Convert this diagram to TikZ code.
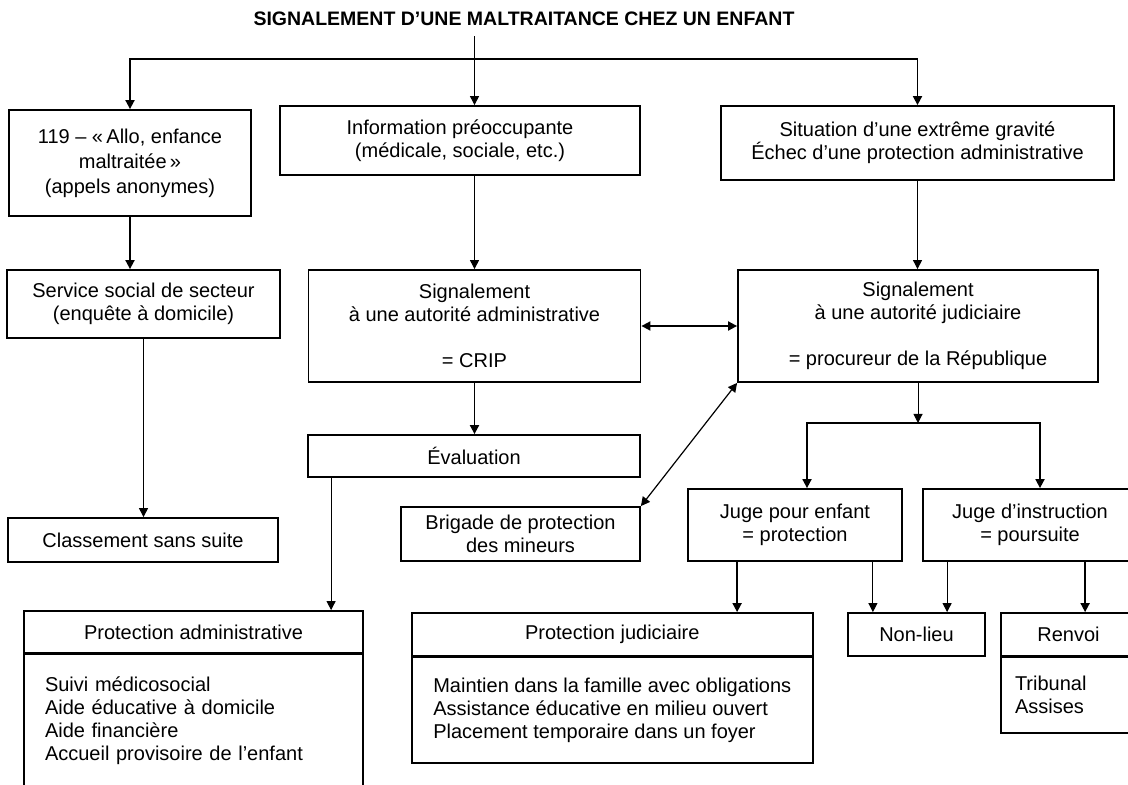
\documentclass[tikz,border=0pt]{standalone}
\usepackage{fontspec}
\setmainfont{Liberation Sans}
\usetikzlibrary{arrows.meta}

\begin{document}
\begin{tikzpicture}[x=0.5pt, y=-0.5pt,
    >={Triangle[length=4.5pt,width=4.5pt]},
    font=\fontsize{10}{11.5}\selectfont,
    boite/.style={shape=rectangle, draw, line width=0.9pt, align=center, inner sep=0pt},
    fleche/.style={->, line width=0.9pt},
    fin/.style={->, line width=0.5pt}]
      \useasboundingbox (0,0) rectangle (1128,785);
      \clip (0,0) rectangle (1128,785);

      \node[font=\fontsize{9.75}{11}\selectfont\bfseries, minimum height=17pt, inner sep=0pt] (titre) at (524,19) {SIGNALEMENT D’UNE MALTRAITANCE CHEZ UN ENFANT};

      \node[boite, minimum width=121pt, minimum height=53pt, font=\fontsize{10}{12.5}\selectfont] (appel) at (130,163) {119 – «\,Allo, enfance\\maltraitée\,»\\(appels anonymes)};
      \node[boite, minimum width=180.25pt, minimum height=34.5pt] (info) at (460,140.5) {Information préoccupante\\(médicale, sociale, etc.)};
      \node[boite, minimum width=196.5pt, minimum height=37pt] (grave) at (917.5,143) {Situation d’une extrême gravité\\Échec d’une protection administrative};

      \node[boite, minimum width=136.5pt, minimum height=34pt] (service) at (143.5,304) {Service social de secteur\\(enquête à domicile)};
      \node[boite, minimum width=166pt, minimum height=56pt] (crip) at (474.5,326) {Signalement\\à une autorité administrative\\[11.5pt]= CRIP};
      \node[boite, minimum width=180pt, minimum height=56pt] (procureur) at (918,326) {Signalement\\à une autorité judiciaire\\[11.5pt]= procureur de la République};

      \node[boite, minimum width=135pt, minimum height=22pt] (classement) at (143,540) {Classement sans suite};
      \node[boite, minimum width=166pt, minimum height=21pt] (evaluation) at (474,456) {Évaluation};
      \node[boite, minimum width=119.5pt, minimum height=27pt] (brigade) at (520.5,534) {Brigade de protection\\des mineurs};
      \node[boite, minimum width=107pt, minimum height=36pt] (jugenf) at (795,525) {Juge pour enfant\\= protection};
      \node[boite, minimum width=107pt, minimum height=36pt] (jugeinstr) at (1030,525) {Juge d’instruction\\= poursuite};

      \node[boite, minimum width=169.5pt, minimum height=21pt] (protadmtete) at (193.5,632) {Protection administrative};
      \node[boite, anchor=north, align=left, text width=148.5pt, inner xsep=10.5pt, minimum height=67pt] (protadmcorps) at (193.5,653) {Suivi médicosocial\\Aide éducative à domicile\\Aide financière\\Accueil provisoire de l’enfant};
      \node[boite, minimum width=200.7pt, minimum height=21.5pt] (protjudtete) at (612.3,634.5) {Protection judiciaire};
      \node[boite, anchor=north, align=left, minimum width=200.7pt, minimum height=53pt] (protjudcorps) at (612.3,656) {Maintien dans la famille avec obligations\\Assistance éducative en milieu ouvert\\Placement temporaire dans un foyer};
      \node[boite, minimum width=68.5pt, minimum height=21.5pt] (nonlieu) at (916.5,634.5) {Non-lieu};
      \node[boite, minimum width=67.5pt, minimum height=21.5pt] (renvoitete) at (1068.5,634.5) {Renvoi};
      \node[boite, anchor=north, align=left, text width=53.5pt, inner xsep=7pt, minimum height=38pt] (renvoicorps) at (1068.5,656) {Tribunal\\Assises};

      \coordinate (fourche1) at (474.5,59);
      \draw[fin] (titre.south -| crip.north) -- (crip.north |- info.north);
      \draw[fleche] (fourche1) -| (appel.north);
      \draw[fleche] (fourche1) -| (grave.north);
      \draw[fleche] (appel.south) -- (appel.south |- service.north);
      \draw[fin] (service.south) -- (service.south |- classement.north);
      \draw[fin] (info.south -| crip.north) -- (crip.north);
      \draw[fin] (grave.south) -- (grave.south |- procureur.north);
      \draw[fleche] (crip.south) -- (crip.south |- evaluation.north);
      \draw[<->, line width=0.9pt] (crip.east) -- (procureur.west);
      \draw[<->, line width=0.6pt] (brigade.north east) -- (procureur.south west);

      \coordinate (d0) at ([xshift=12pt]evaluation.south west);
      \draw[fin] (d0) -- (d0 |- protadmtete.north);

      \coordinate (fourche2) at (918,423);
      \draw[fin] (procureur.south) -- (fourche2);
      \draw[fleche] (fourche2) -| ([xshift=6pt]jugenf.north);
      \draw[fleche] (fourche2) -| ([xshift=5pt]jugeinstr.north);

      \coordinate (d1) at ([xshift=25pt]jugenf.south west);
      \coordinate (d2) at ([xshift=-15pt]jugenf.south east);
      \coordinate (d3) at ([xshift=12.5pt]jugeinstr.south west);
      \coordinate (d4) at ([xshift=81.5pt]jugeinstr.south west);
      \draw[fleche] (d1) -- (d1 |- protjudtete.north);
      \draw[fin] (d2) -- (d2 |- nonlieu.north);
      \draw[fin] (d3) -- (d3 |- nonlieu.north);
      \draw[fleche] (d4) -- (d4 |- renvoitete.north);
    \end{tikzpicture}
\end{document}
